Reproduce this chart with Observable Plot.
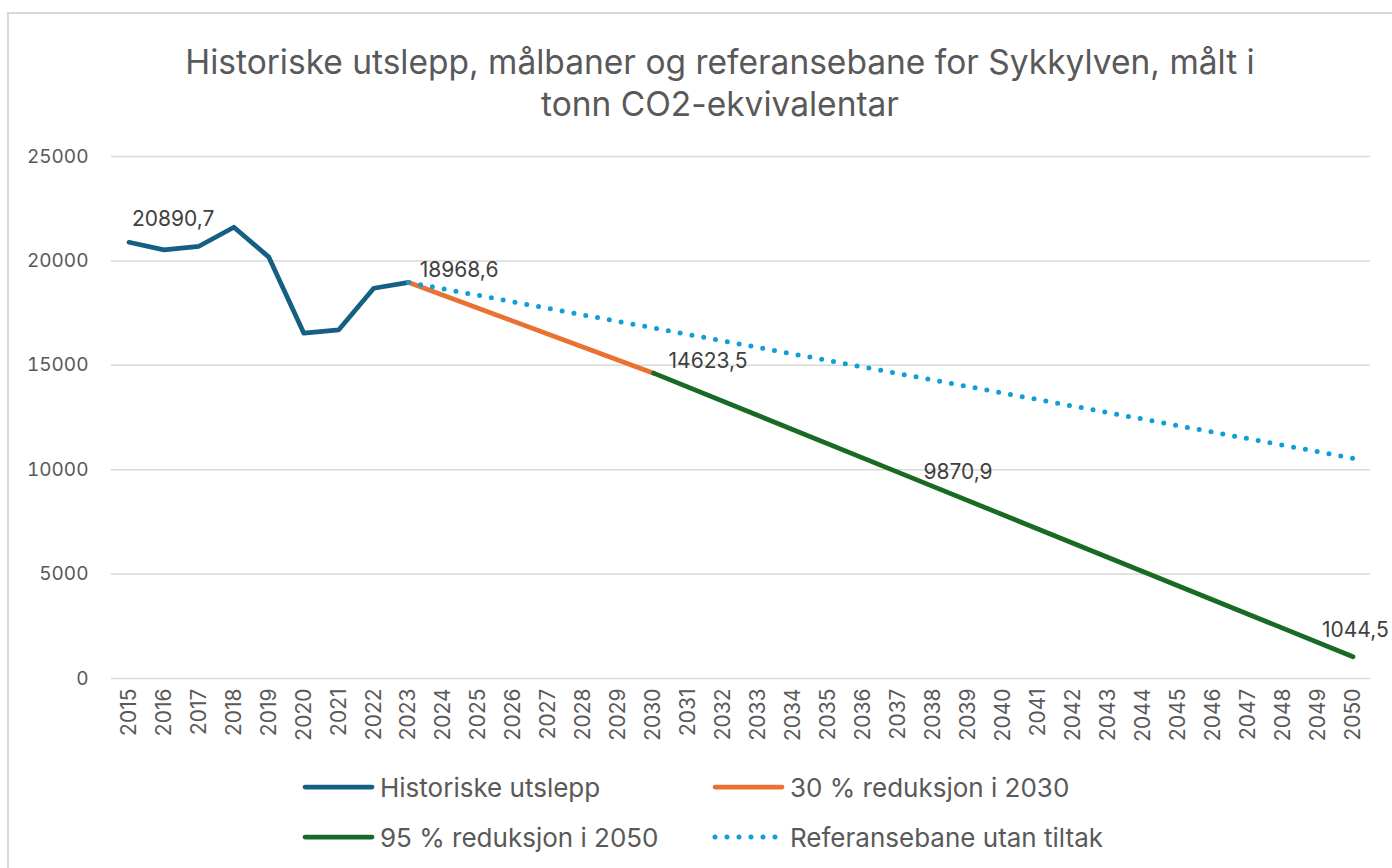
<!DOCTYPE html>
<html>
<head>
<meta charset="utf-8">
<script src="https://cdn.jsdelivr.net/npm/d3@7"></script>
<script src="https://cdn.jsdelivr.net/npm/@observablehq/plot@0.6"></script>
<style>
  body { margin: 0; background: #fff; font-family: Inter, "Liberation Sans", sans-serif; }
  #frame { position: absolute; left: 7px; top: 12px; width: 1500px; height: 1000px; border: 2px solid #d9d9d9; box-sizing: border-box; }
  #title { position: absolute; left: 0; top: 41px; width: 1440px; text-align: center; color: #595959; font-size: 33.5px; line-height: 42px; }
  #chart { position: absolute; left: 0; top: 130px; }
  .leg { position: absolute; display: flex; align-items: center; color: #595959; font-size: 26px; white-space: nowrap; }
  .leg svg { margin-right: 0; }
</style>
</head>
<body>
<div id="frame"></div>
<div id="title">Historiske utslepp, målbaner og referansebane for Sykkylven, målt i<br>tonn CO2-ekvivalentar</div>
<div id="chart"></div>
<div id="legend"></div>
<script>
// ---- data ----
const years = [2015,2016,2017,2018,2019,2020,2021,2022,2023,2024,2025,2026,2027,2028,2029,2030,2031,2032,2033,2034,2035,2036,2037,2038,2039,2040,2041,2042,2043,2044,2045,2046,2047,2048,2049,2050];
const yTicks = [0, 5000, 10000, 15000, 20000, 25000];

const seriesNames = ["Historiske utslepp", "30 % reduksjon i 2030", "95 % reduksjon i 2050", "Referansebane utan tiltak"];
const seriesColors = ["#156082", "#E97132", "#196B24", "#0F9ED5"];

const histYears = [2015, 2016, 2017, 2018, 2019, 2020, 2021, 2022, 2023];
const histValues = [20890.7, 20530, 20700, 21610, 20180, 16540, 16700, 18690, 18968.6];

const target2030Years = [2023, 2030];
const target2030Values = [18968.6, 14623.5];

const target2050Years = [2030, 2037, 2050];
const target2050Values = [14623.5, 9870.9, 1044.5];

const refYears = [2023, 2050];
const refValues = [18968.6, 10550];

const labelYears = [2015, 2023, 2030, 2037, 2050];
const labelValues = [20890.7, 18968.6, 14623.5, 9870.9, 1044.5];

// ---- build tables ----
const toRows = (xs, ys) => xs.map((x, i) => ({x, y: ys[i]}));
const hist = toRows(histYears, histValues);
const t2030 = toRows(target2030Years, target2030Values);
const t2050 = toRows(target2050Years, target2050Values);
const ref = toRows(refYears, refValues);
const labels = toRows(labelYears, labelValues);
const fmt = v => v.toFixed(1).replace(".", ",");
const labelOffsets = [[3, -23], [11, -12], [15, -12], [25, 0], [-31, -26]];

const lineOpts = {x: "x", y: "y", strokeWidth: 4.75, strokeLinecap: "round", strokeLinejoin: "round"};

const chart = Plot.plot({
  width: 1392,
  height: 640,
  marginLeft: 111,
  marginRight: 22,
  marginTop: 26,
  marginBottom: 92,
  style: {fontFamily: "Inter, 'Liberation Sans', sans-serif", fontSize: "19px", color: "#595959", background: "transparent", overflow: "visible"},
  x: {type: "point", domain: years, padding: 0.5, align: 0.5, label: null, tickRotate: -90, tickSize: 0, tickPadding: 10, tickFormat: d => String(d)},
  y: {domain: [0, 25000], ticks: yTicks, tickSize: 0, tickPadding: 23, label: null, tickFormat: d => String(d)},
  marks: [
    Plot.gridY(yTicks, {stroke: "#d9d9d9", strokeOpacity: 1, strokeWidth: 1.5}),
    Plot.axisX({tickRotate: -90, tickSize: 0, tickPadding: 10, fontSize: 21, tickFormat: d => String(d), label: null}),
    Plot.line(hist, {...lineOpts, stroke: seriesColors[0]}),
    Plot.line(t2030, {...lineOpts, stroke: seriesColors[1]}),
    Plot.line(t2050, {...lineOpts, stroke: seriesColors[2]}),
    Plot.line(ref, {...lineOpts, stroke: seriesColors[3], strokeWidth: 5, strokeDasharray: "0 12", strokeLinecap: "round"}),
    ...labels.map((d, i) => Plot.text([d], {
      x: "x", y: "y", text: r => fmt(r.y), textAnchor: "start", lineAnchor: "middle",
      dx: labelOffsets[i][0], dy: labelOffsets[i][1], fill: "#404040", fontSize: 21
    }))
  ]
});
document.getElementById("chart").appendChild(chart);

// ---- legend ----
const legendPos = [[295, 787], [705, 787], [295, 837], [705, 837]];
const legend = document.getElementById("legend");
seriesNames.forEach((name, i) => {
  const div = document.createElement("div");
  div.className = "leg";
  div.style.left = legendPos[i][0] + "px";
  div.style.top = (legendPos[i][1] - 18) + "px";
  div.style.height = "36px";
  const dotted = i === 3;
  div.innerHTML = `<svg width="85" height="12"><line x1="10" x2="77" y1="6" y2="6" stroke="${seriesColors[i]}" stroke-width="${dotted ? 5 : 4.75}" stroke-linecap="round" ${dotted ? 'stroke-dasharray="0 12"' : ''}/></svg><span>${name}</span>`;
  legend.appendChild(div);
});
</script>
</body>
</html>
